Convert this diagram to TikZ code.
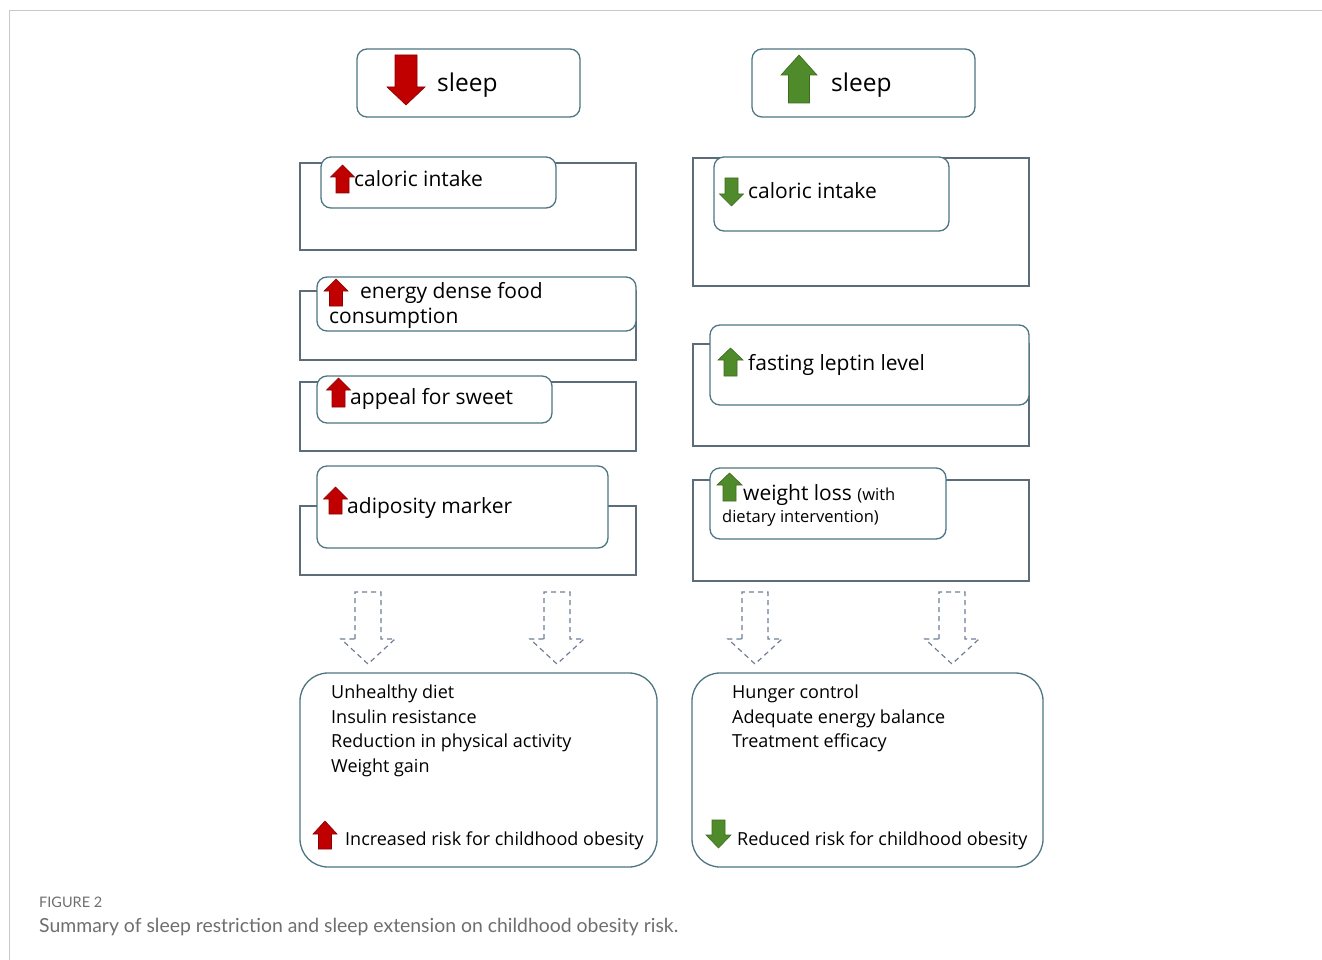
\documentclass[tikz,border=0pt]{standalone}
\usepackage{fontspec}
\setmainfont{Open Sans}
\newfontfamily\capfont{Lato}
\definecolor{boxc}{HTML}{4D7682}
\definecolor{rectc}{HTML}{5C6C78}
\definecolor{dashc}{HTML}{6F7F95}
\definecolor{redf}{HTML}{C00000}
\definecolor{rede}{HTML}{8B0000}
\definecolor{greenf}{HTML}{4F8A2B}
\definecolor{greene}{HTML}{3D6B22}
\definecolor{framec}{HTML}{C8C8C8}
\definecolor{capc}{HTML}{6E6E6E}
\newcommand{\iconUp}[7]{% fill, edge, cx, ytop, ybot, halfw, shafthalf
  \filldraw[fill=#1, draw=#2, line width=0.6pt, line join=miter]
    ({#3-#7},#5) -- ({#3-#7},{#4+\hlen}) -- ({#3-#6},{#4+\hlen}) -- (#3,#4)
    -- ({#3+#6},{#4+\hlen}) -- ({#3+#7},{#4+\hlen}) -- ({#3+#7},#5) -- cycle;}
\newcommand{\iconDown}[7]{% fill, edge, cx, ytop, ybot, halfw, shafthalf
  \filldraw[fill=#1, draw=#2, line width=0.6pt, line join=miter]
    ({#3-#7},#4) -- ({#3-#7},{#5-\hlen}) -- ({#3-#6},{#5-\hlen}) -- (#3,#5)
    -- ({#3+#6},{#5-\hlen}) -- ({#3+#7},{#5-\hlen}) -- ({#3+#7},#4) -- cycle;}
\newcommand{\dashBlock}[1]{%
  \draw[dblock] ({#1-13},639) -- ({#1-13},592) -- ({#1+13},592) -- ({#1+13},639)
    -- ({#1+27},639) -- (#1,664) -- ({#1-27},639) -- cycle;}
\def\hlen{12}
\begin{document}
\begin{tikzpicture}[x=1pt,y=-1pt]
\tikzset{
  rbox/.style={draw=boxc, line width=1.3pt, rounded corners=10pt, fill=white, inner sep=0pt},
  obox/.style={draw=rectc, line width=1.2pt, inner sep=0pt},
  bigbox/.style={draw=boxc, line width=1.3pt, rounded corners=28pt, fill=white, inner sep=0pt},
  lbl/.style={anchor=base west, inner sep=0pt, font=\fontsize{21}{25}\selectfont, text=black},
  sleeplbl/.style={anchor=base west, inner sep=0pt, font=\fontsize{24.5}{30}\selectfont, text=black},
  small/.style={anchor=base west, inner sep=0pt, font=\fontsize{18}{22}\selectfont, text=black},
  dblock/.style={draw=dashc, dash pattern=on 5pt off 4pt, line width=1.2pt},
}
\useasboundingbox (0,0) rectangle (1322,960);
% frame
\draw[framec, line width=1pt] (9,960) -- (9,11) -- (1322,11);

% top boxes
\node[rbox, minimum width=223pt, minimum height=68pt] (sleepL) at (468.5,83) {};
\node[rbox, minimum width=223pt, minimum height=68pt] (sleepR) at (863.5,83) {};
\def\hlen{18}
\iconDown{redf}{rede}{406}{55}{105}{19}{11}
\def\hlen{20}
\iconUp{greenf}{greene}{799}{55}{103}{18}{10.5}
\node[sleeplbl] (sleepLt) at (437,92) {sleep};
\node[sleeplbl] (sleepRt) at (831,92) {sleep};

% left column
\node[obox, minimum width=336pt, minimum height=87pt] (L1o) at (468,206.5) {};
\node[rbox, minimum width=235pt, minimum height=51pt] (L1i) at (438.5,182.5) {};
\node[obox, minimum width=336pt, minimum height=69pt] (L2o) at (468,325.5) {};
\node[rbox, minimum width=319pt, minimum height=54pt] (L2i) at (476.5,304) {};
\node[obox, minimum width=336pt, minimum height=69pt] (L3o) at (468,416.5) {};
\node[rbox, minimum width=235pt, minimum height=47pt] (L3i) at (434.5,399.5) {};
\node[obox, minimum width=336pt, minimum height=69pt] (L4o) at (468,540.5) {};
\node[rbox, minimum width=291pt, minimum height=82pt] (L4i) at (462.5,507) {};

\def\hlen{12}
\iconUp{redf}{rede}{342.5}{165}{193}{12}{6.5}
\iconUp{redf}{rede}{336}{279}{306}{12}{6.5}
\iconUp{redf}{rede}{338.5}{378}{407}{12}{6.5}
\iconUp{redf}{rede}{335.5}{487}{514}{12}{6.5}
\node[lbl] (L1t) at (354,187) {caloric intake};
\node[lbl] (L2t) at (360,298) {energy dense food};
\node[lbl] (L2u) at (329,323) {consumption};
\node[lbl] (L3t) at (350,404) {appeal for sweet};
\node[lbl] (L4t) at (347,513) {adiposity marker};

% right column
\node[obox, minimum width=336pt, minimum height=128pt] (R1o) at (861,222) {};
\node[rbox, minimum width=235pt, minimum height=74pt] (R1i) at (831.5,194) {};
\node[obox, minimum width=336pt, minimum height=102pt] (R2o) at (861,395) {};
\node[rbox, minimum width=319pt, minimum height=80pt] (R2i) at (869.5,365) {};
\node[obox, minimum width=336pt, minimum height=101pt] (R3o) at (861,530.5) {};
\node[rbox, minimum width=236pt, minimum height=71pt] (R3i) at (828,503.5) {};

\iconDown{greenf}{greene}{731.5}{178}{206}{12}{6.5}
\iconUp{greenf}{greene}{730.5}{348}{376}{12.5}{6.5}
\iconUp{greenf}{greene}{729.5}{473}{501}{12.5}{6.5}
\node[lbl] (R1t) at (748,199) {caloric intake};
\node[lbl] (R2t) at (748,370) {fasting leptin level};
\node[lbl] (R3t) at (743,500) {weight loss {\fontsize{16.5}{20}\selectfont(with}};
\node[anchor=base west, inner sep=0pt, font=\fontsize{16.5}{20}\selectfont] (R3u) at (722,522.5) {dietary intervention)};

% dashed block arrows
\dashBlock{368}
\dashBlock{557}
\dashBlock{755}
\dashBlock{952}

% bottom boxes
\node[bigbox, minimum width=357pt, minimum height=194pt] (LB) at (478.5,770) {};
\node[bigbox, minimum width=351pt, minimum height=194pt] (RB) at (867.5,770) {};
\node[small] (LB1) at (331,698) {Unhealthy diet};
\node[small] (LB2) at (331,723) {Insulin resistance};
\node[small] (LB3) at (331,747) {Reduction in physical activity};
\node[small] (LB4) at (331,772) {Weight gain};
\def\hlen{13}
\iconUp{redf}{rede}{325}{821}{849}{12}{6.5}
\node[small] (LB5) at (345,845) {Increased risk for childhood obesity};
\node[small] (RB1) at (732,698) {Hunger control};
\node[small] (RB2) at (732,723) {Adequate energy balance};
\node[small] (RB3) at (732,747) {Treatment efficacy};
\iconDown{greenf}{greene}{718.5}{820}{848}{12.5}{6.5}
\node[small] (RB5) at (737,845) {Reduced risk for childhood obesity};

% caption
\node[anchor=base west, inner sep=0pt, font=\capfont\fontsize{14.5}{17}\selectfont, text=capc] (fig) at (39,907) {FIGURE 2};
\node[anchor=base west, inner sep=0pt, font=\capfont\fontsize{19.4}{23}\selectfont, text=capc] (cap) at (39,932) {Summary of sleep restriction and sleep extension on childhood obesity risk.};
\end{tikzpicture}
\end{document}
